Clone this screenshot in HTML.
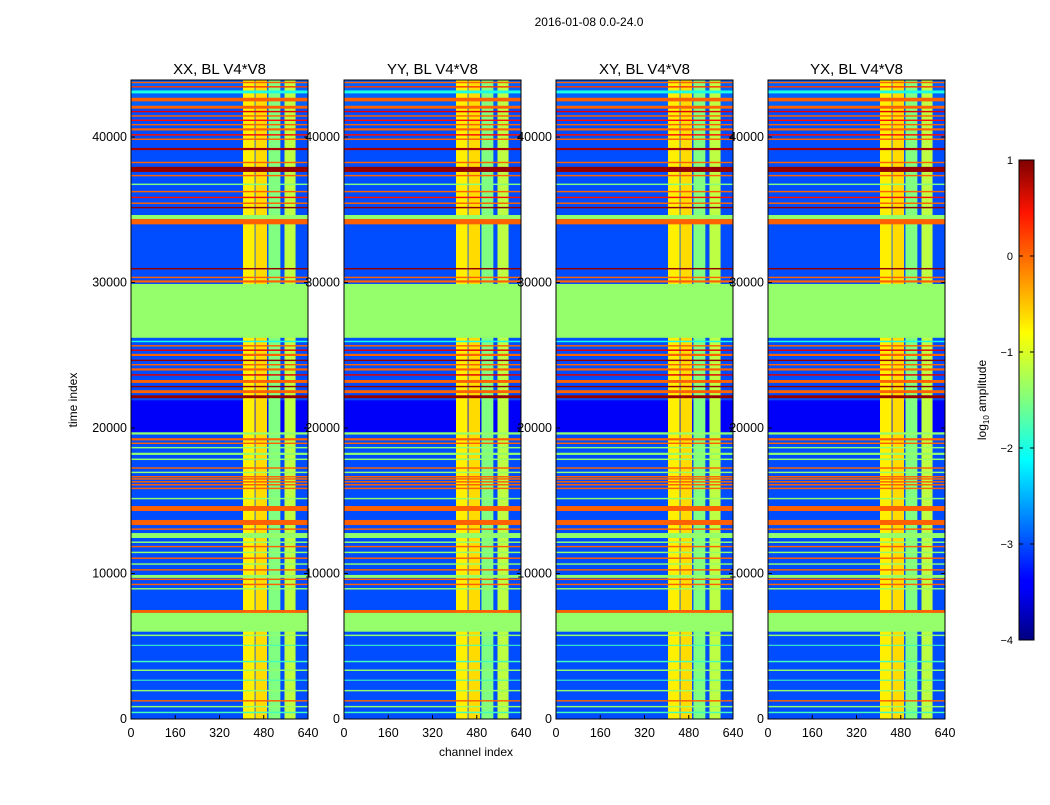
<!DOCTYPE html>
<html><head><meta charset="utf-8"><style>
body{margin:0;background:#fff;width:1050px;height:800px;overflow:hidden;font-family:"Liberation Sans",sans-serif}
svg text{font-family:"Liberation Sans",sans-serif}
</style></head><body>
<svg id="chart" width="1050" height="800" xmlns="http://www.w3.org/2000/svg">
<defs><linearGradient id="jet" x1="0" y1="1" x2="0" y2="0">
<stop offset="0" stop-color="#00007f"/><stop offset="0.11" stop-color="#0000ff"/><stop offset="0.125" stop-color="#0000ff"/>
<stop offset="0.34" stop-color="#00dcff"/><stop offset="0.375" stop-color="#00ffff"/><stop offset="0.5" stop-color="#7fff7f"/>
<stop offset="0.64" stop-color="#ffff00"/><stop offset="0.66" stop-color="#ffea00"/><stop offset="0.89" stop-color="#ff1400"/><stop offset="1" stop-color="#7f0000"/>
</linearGradient></defs>
</svg>
<script>
const panelTitles=["XX, BL V4*V8","YY, BL V4*V8","XY, BL V4*V8","YX, BL V4*V8"];
const xTicks=[0,160,320,480,640];
const yTicks=[0,10000,20000,30000,40000];
const cbTicks=[1,0,-1,-2,-3,-4];
const baseValue=-3.0;
const regions=[[21900,19730,-3.4],[43920,42000,-2.9]];
const columns=[[405,447,-0.8],[450,492,-0.7],[497,540,-1.5],[555,595,-1.2]];
const stripes=[[43800,43700,-0.1],[43500,43400,0.1],[43200,43000,-2],[42700,42450,-0.1],[42150,41950,-0.1],[41800,41700,0.5],[41500,41400,-0.1],[41200,41100,0.3],[40900,40800,-0.1],[40600,40450,-0.1],[40200,40100,0.3],[39900,39800,-0.1],[39250,39100,0.8],[38300,38200,-0.1],[37950,37600,0.9],[37400,37300,-0.1],[36800,36700,-1.5],[36300,36200,-0.1],[35900,35800,0.3],[35500,35400,-0.1],[35200,35100,0.9],[34640,34360,-1.4],[34360,34000,-0.1],[31000,30900,0.9],[30400,30300,-0.1],[30150,30000,-0.1],[29900,26200,-1.4],[26000,25900,-2],[25700,25600,-0.1],[25400,25300,0.5],[25100,24950,-0.1],[24700,24600,0.9],[24400,24300,-0.1],[24100,23950,-0.1],[23700,23600,0.5],[23300,23100,-0.1],[22900,22800,0.9],[22600,22400,-0.1],[22250,22050,0.9],[19700,19550,-1.4],[19300,19150,-0.1],[19000,18900,-0.1],[18700,18600,-1.4],[18300,18150,-1.4],[17900,17800,-1.4],[17300,17200,-0.1],[17000,16900,-1.4],[16700,16600,-0.1],[16550,16450,-0.1],[16350,16250,-0.1],[16150,16050,-0.1],[15900,15800,-0.1],[15200,15100,-1.4],[14640,14300,-0.1],[13680,13330,-0.1],[13100,13000,-0.1],[12780,12440,-1.4],[12200,12100,-1.4],[11900,11800,-0.1],[11500,11400,-1.4],[11100,11000,-0.1],[10700,10600,-1.4],[10300,10200,-0.1],[9900,9700,-1.4],[9650,9550,-0.1],[9300,9200,-0.1],[9000,8900,-1.4],[7490,7290,-0.1],[7290,6000,-1.4],[5800,5700,-1.4],[5100,5050,-1.8],[4000,3900,-1.8],[3400,3300,-1.4],[2700,2650,-1.8],[2000,1900,-1.4],[1300,1200,-0.1],[900,800,-1.4],[500,400,-1.8]];
const panelLefts=[131,344,556,768];
const W=177,TOP=80,BOT=719,TMAX=43920,CMAX=640;
const NS="http://www.w3.org/2000/svg";
const svg=document.getElementById('chart');
function jet(v){const x=Math.max(0,Math.min(1,(v+4)/5));const c=t=>Math.round(255*Math.max(0,Math.min(1,1.5-Math.abs(4*x-t))));return `rgb(${c(3)},${c(2)},${c(1)})`;}
function el(tag,attrs,parent){const e=document.createElementNS(NS,tag);for(const k in attrs)e.setAttribute(k,attrs[k]);(parent||svg).appendChild(e);return e;}
const yS=t=>BOT-(t/TMAX)*(BOT-TOP);
function txt(x,y,s,size,anchor,parent){const t=el('text',{x:x,y:y,'font-size':size,'text-anchor':anchor||'middle',fill:'#000'},parent);t.textContent=s;return t;}
panelLefts.forEach((L,i)=>{
  const xS=c=>L+(c/CMAX)*W;
  const g=el('g',{});
  
  
  const bg=el('rect',{x:L,y:TOP,width:W,height:BOT-TOP,fill:jet(baseValue)},g);
  
  
  regions.forEach(r=>{const e=el('rect',{x:L,y:yS(r[0]),width:W,height:yS(r[1])-yS(r[0]),fill:jet(r[2])},g);
    
    });
  columns.forEach(c=>{const e=el('rect',{x:xS(c[0]),y:TOP,width:xS(c[1])-xS(c[0]),height:BOT-TOP,fill:jet(c[2])},g);
    
    });
  stripes.forEach(s=>{const e=el('rect',{x:L,y:yS(s[0]),width:W,height:Math.max(1,yS(s[1])-yS(s[0])),fill:jet(s[2])},g);
    
    });
  const fr=el('rect',{x:L,y:TOP,width:W,height:BOT-TOP,fill:'none',stroke:'#000','stroke-width':1},g);
  
  
  const tt=txt(L+W/2,74,panelTitles[i],15,'middle',g);
  
  
  xTicks.forEach(v=>{const x=xS(v);el('line',{x1:x,x2:x,y1:BOT,y2:BOT-4,stroke:'#000'},g);
    const t=txt(x,737,String(v),12.5,'middle',g);
    
    });
  yTicks.forEach(v=>{const y=yS(v);el('line',{x1:L,x2:L+4,y1:y,y2:y,stroke:'#000'},g);el('line',{x1:L+W,x2:L+W-4,y1:y,y2:y,stroke:'#000'},g);
    const t=txt(L-4,y+4,String(v),12.5,'end',g);
    
    });
});
const title=txt(589,26,'2016-01-08 0.0-24.0',12);


const yl=txt(0,0,'time index',12);yl.setAttribute('transform','translate(77,400) rotate(-90)');


const xl=txt(476,756,'channel index',12);


const cb=el('rect',{x:1019,y:160,width:15,height:480,fill:'url(#jet)',stroke:'#000'});


const cbY=v=>640-((v+4)/5)*480;
cbTicks.forEach(v=>{const y=cbY(v);el('line',{x1:1019,x2:1023,y1:y,y2:y,stroke:'#000'});el('line',{x1:1034,x2:1030,y1:y,y2:y,stroke:'#000'});
  const t=txt(1013,y+4,v<0?'\u2212'+(-v):String(v),11,'end');
  
  });
const cl=el('text',{'font-size':12,'text-anchor':'middle',transform:'translate(986,400) rotate(-90)'});
cl.innerHTML='log<tspan font-size="8" dy="3">10</tspan><tspan dy="-3"> amplitude</tspan>';


</script>
</body></html>
